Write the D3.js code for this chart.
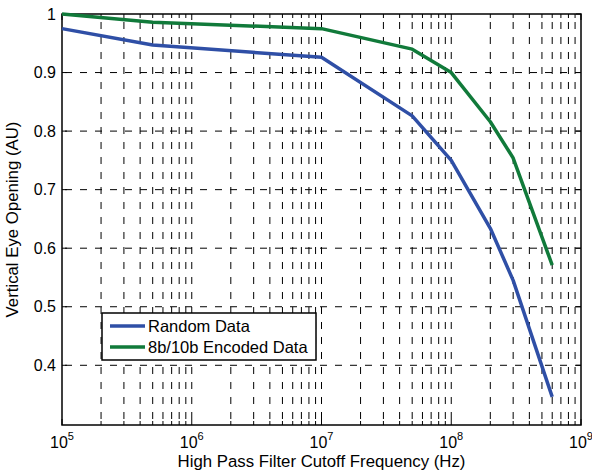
<!DOCTYPE html>
<html>
<head>
<meta charset="utf-8">
<script src="https://cdn.jsdelivr.net/npm/d3@7"></script>
<style>
  body { margin: 0; background: #fff; }
  svg { display: block; font-family: "Liberation Sans", Arial, sans-serif; }
</style>
</head>
<body>
<div class="container"></div>
<script>
// cutoff frequencies (Hz) and eye opening values
var freqs = [1e5, 5e5, 1e7, 5e7, 1e8, 2e8, 3e8, 6e8];
var randomData = [0.975, 0.947, 0.926, 0.826, 0.750, 0.634, 0.545, 0.346];
var encodedData = [1.0, 0.986, 0.975, 0.940, 0.900, 0.816, 0.754, 0.571];
var seriesNames = ["Random Data", "8b/10b Encoded Data"];
var seriesColors = ["#2f4fa6", "#117a3a"];
var yTicks = [0.4, 0.5, 0.6, 0.7, 0.8, 0.9, 1];
var xDecades = [1e5, 1e6, 1e7, 1e8, 1e9];

var margin = {top: 14, right: 11, bottom: 46, left: 62},
    width = 592 - margin.left - margin.right,
    height = 471 - margin.top - margin.bottom;

var svg = d3.select(".container")
  .append("svg")
    .attr("width", 592)
    .attr("height", 471)
  .append("g")
    .attr("transform", "translate(" + margin.left + "," + margin.top + ")");

var x = d3.scaleLog()
  .domain([1e5, 1e9])
  .range([0, width]);

var y = d3.scaleLinear()
  .domain([0.298, 1])
  .range([height, 0]);

// all log ticks: 1..9 per decade
var minorTicks = [];
for (var k = 5; k < 9; k++) {
  for (var m = 1; m <= 9; m++) minorTicks.push(m * Math.pow(10, k));
}
minorTicks.push(1e9);

// grid
svg.append("g")
  .selectAll("line")
  .data(minorTicks.filter(function(d) { return d > 1e5 && d < 1e9; }))
  .enter()
  .append("line")
    .attr("x1", function(d) { return x(d); })
    .attr("x2", function(d) { return x(d); })
    .attr("y1", 0)
    .attr("y2", height)
    .attr("stroke", "#000")
    .attr("stroke-width", 1)
    .attr("stroke-dasharray", "7,8")
    .attr("stroke-dashoffset", 7);

svg.append("g")
  .selectAll("line")
  .data(yTicks.filter(function(d) { return d < 1; }))
  .enter()
  .append("line")
    .attr("x1", 0)
    .attr("x2", width)
    .attr("y1", function(d) { return y(d); })
    .attr("y2", function(d) { return y(d); })
    .attr("stroke", "#000")
    .attr("stroke-width", 1)
    .attr("stroke-dasharray", "7,8")
    .attr("stroke-dashoffset", -3);

// inward ticks on all four sides
var tickG = svg.append("g").attr("stroke", "#000").attr("stroke-width", 1);
minorTicks.forEach(function(d) {
  var len = xDecades.indexOf(d) >= 0 ? 6 : 4;
  tickG.append("line").attr("x1", x(d)).attr("x2", x(d)).attr("y1", height).attr("y2", height - len);
  tickG.append("line").attr("x1", x(d)).attr("x2", x(d)).attr("y1", 0).attr("y2", len);
});
yTicks.forEach(function(d) {
  tickG.append("line").attr("x1", 0).attr("x2", 5).attr("y1", y(d)).attr("y2", y(d));
  tickG.append("line").attr("x1", width).attr("x2", width - 5).attr("y1", y(d)).attr("y2", y(d));
});

// box
svg.append("rect")
  .attr("x", 0).attr("y", 0)
  .attr("width", width).attr("height", height)
  .attr("fill", "none")
  .attr("stroke", "#000")
  .attr("stroke-width", 1.5);

// y tick labels
svg.append("g")
  .selectAll("text")
  .data(yTicks)
  .enter()
  .append("text")
    .attr("x", -6)
    .attr("y", function(d) { return y(d); })
    .attr("dy", "0.36em")
    .attr("text-anchor", "end")
    .attr("font-size", 16)
    .text(function(d) { return d === 1 ? "1" : d3.format(".1f")(d); });

// x tick labels 10^k
var xl = svg.append("g")
  .selectAll("text")
  .data(xDecades)
  .enter()
  .append("text")
    .attr("x", function(d) { return x(d); })
    .attr("y", height + 23)
    .attr("text-anchor", "middle")
    .attr("font-size", 16);
xl.append("tspan").text("10");
xl.append("tspan")
  .attr("dy", -8)
  .attr("font-size", 11)
  .text(function(d) { return Math.round(Math.log10(d)); });

// axis titles
svg.append("text")
  .attr("x", width / 2)
  .attr("y", height + 42)
  .attr("text-anchor", "middle")
  .attr("font-size", 16.8)
  .text("High Pass Filter Cutoff Frequency (Hz)");

svg.append("text")
  .attr("transform", "rotate(-90)")
  .attr("x", -height / 2)
  .attr("y", -44)
  .attr("text-anchor", "middle")
  .attr("font-size", 16.8)
  .text("Vertical Eye Opening (AU)");

// lines
var line = d3.line()
  .x(function(d) { return x(d[0]); })
  .y(function(d) { return y(d[1]); });

[randomData, encodedData].forEach(function(vals, i) {
  svg.append("path")
    .datum(freqs.map(function(f, j) { return [f, vals[j]]; }))
    .attr("fill", "none")
    .attr("stroke", seriesColors[i])
    .attr("stroke-width", 3.5)
    .attr("stroke-linejoin", "round")
    .attr("d", line);
});

// legend
var legend = svg.append("g").attr("transform", "translate(40,299)");
legend.append("rect")
  .attr("x", 0).attr("y", 0)
  .attr("width", 214).attr("height", 47)
  .attr("fill", "#fff")
  .attr("stroke", "#000")
  .attr("stroke-width", 1.5);
seriesNames.forEach(function(name, i) {
  var ly = 13 + i * 21;
  legend.append("line")
    .attr("x1", 8).attr("x2", 43)
    .attr("y1", ly).attr("y2", ly)
    .attr("stroke", seriesColors[i])
    .attr("stroke-width", 3.5);
  legend.append("text")
    .attr("x", 46)
    .attr("y", ly)
    .attr("dy", "0.36em")
    .attr("font-size", 16.5)
    .text(name);
});
</script>
</body>
</html>
